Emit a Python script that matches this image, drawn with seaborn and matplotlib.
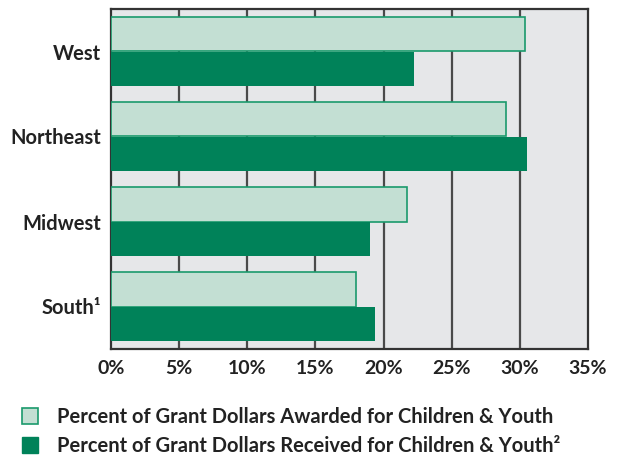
import matplotlib
matplotlib.use("Agg")
import matplotlib.pyplot as plt
import seaborn as sns
import pandas as pd
from matplotlib.patches import Patch

regions = ["West", "Northeast", "Midwest", "South\u00b9"]
awarded = [30.4, 29.0, 21.7, 18.0]
received = [22.2, 30.5, 19.0, 19.4]
series = ["Percent of Grant Dollars Awarded for Children & Youth",
          "Percent of Grant Dollars Received for Children & Youth\u00b2"]
xticks = [0, 5, 10, 15, 20, 25, 30, 35]

df = pd.DataFrame({
    "region": regions * 2,
    "value": awarded + received,
    "series": [series[0]] * 4 + [series[1]] * 4,
})

sns.set_theme(style="white")
plt.rcParams["font.family"] = ["Lato", "DejaVu Sans"]

light = "#c3dfd3"
dark = "#008259"
edge = "#1a9a6c"

fig = plt.figure(figsize=(6.23, 4.57), dpi=100)
ax = fig.add_axes([111/623, 1-349/457, (588-111)/623, 340/457])
ax.set_facecolor("#e6e7e9")

sns.barplot(data=df, y="region", x="value", hue="series", orient="h",
            palette=[light, dark], width=0.82, ax=ax, legend=False,
            saturation=1, zorder=3)
for i, p in enumerate(ax.patches):
    if i < 4:
        p.set_edgecolor(edge)
        p.set_linewidth(1.2)
    else:
        p.set_edgecolor(dark)
        p.set_linewidth(0)

ax.set_xlim(0, 35)
ax.set_ylim(3.5, -0.5)
ax.set_xticks(xticks)
ax.set_xticklabels([f"{t}%" for t in xticks], fontsize=14, fontweight="bold", color="#222")
ax.tick_params(axis="y", labelsize=14.5, colors="#222", length=0, pad=7)
ax.tick_params(axis="x", length=0, pad=8)
for lbl in ax.get_yticklabels():
    lbl.set_fontweight("bold")
ax.set_xlabel("")
ax.set_ylabel("")
for t in xticks[1:-1]:
    ax.axvline(t, color="#4a4a4a", lw=1.6, zorder=1)
for s in ax.spines.values():
    s.set_color("#333333")
    s.set_linewidth(1.6)

handles = [Patch(facecolor=light, edgecolor=edge, linewidth=1.2),
           Patch(facecolor=dark, edgecolor=dark)]
fig.legend(handles, series, loc="upper left", bbox_to_anchor=(22/623, 1-407/457),
           frameon=False, prop={"size": 14.5, "weight": "bold"},
           borderpad=0, borderaxespad=0,
           handlelength=0.8, handleheight=0.8, handletextpad=0.95,
           labelspacing=0.45, labelcolor="#222")

fig.savefig("out.png", dpi=100)
